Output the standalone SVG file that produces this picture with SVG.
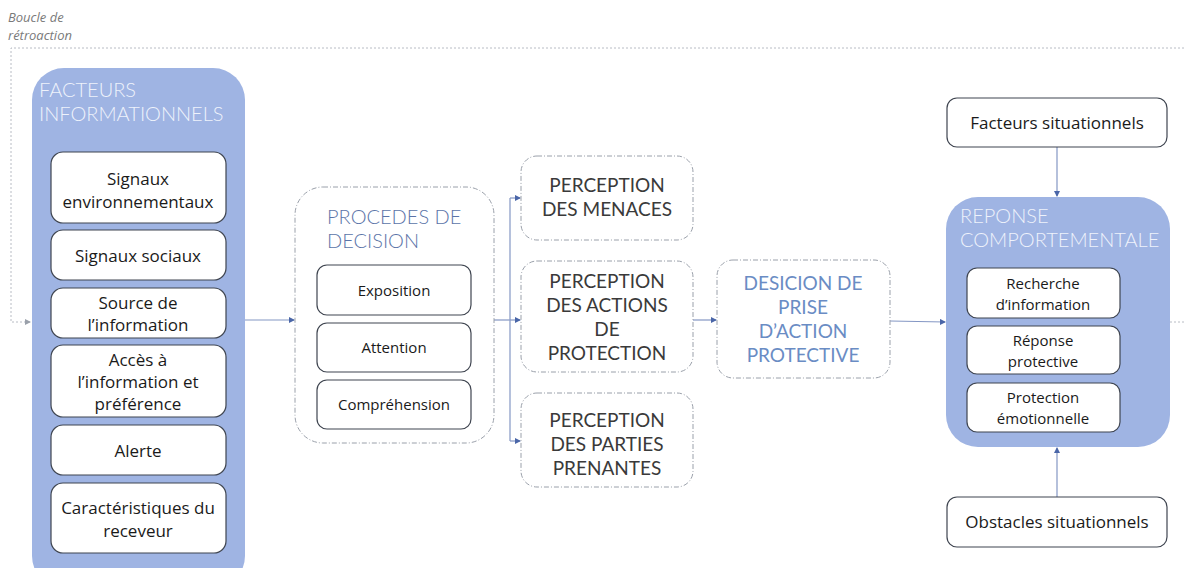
<svg xmlns="http://www.w3.org/2000/svg" width="1184" height="568" viewBox="0 0 1184 568">
<style>
.big{fill:#9fb4e3;stroke:none}
.inner{fill:#ffffff;stroke:#3f4550;stroke-width:1.2}
.dash{fill:#ffffff;stroke:#9aa0aa;stroke-width:1;stroke-dasharray:5 2 1 2}
.t{font-family:"Open Sans","Liberation Sans",sans-serif;font-size:17px;fill:#1a1a1a;text-anchor:middle}
.ts{font-family:"Open Sans","Liberation Sans",sans-serif;font-size:15px;fill:#1a1a1a;text-anchor:middle}
.hw{font-family:"Lato","DejaVu Sans",sans-serif;font-weight:300;font-size:20px;fill:#eef2fb}
.hb{font-family:"Lato","DejaVu Sans",sans-serif;font-weight:300;font-size:20px;fill:#5b74a8}
.hg{font-family:"Lato","DejaVu Sans",sans-serif;font-weight:400;font-size:19px;fill:#3a3a3a;text-anchor:middle}
.hl{font-family:"Lato","DejaVu Sans",sans-serif;font-weight:400;font-size:19px;fill:#6a8cc4;text-anchor:middle}
.note{font-family:"Open Sans","Liberation Sans",sans-serif;font-style:italic;font-size:13px;fill:#7a7a7a}
.c{fill:none;stroke:#8497c4;stroke-width:1.2}
.loop{fill:none;stroke:#b8bcc4;stroke-width:1;stroke-dasharray:2 2}
</style>
<defs>
<marker id="a" markerWidth="6" markerHeight="6" refX="5" refY="3" orient="auto" markerUnits="userSpaceOnUse">
<path d="M0,0 L6,3 L0,6 z" fill="#4a66a8"/>
</marker>
<marker id="ag" markerWidth="6" markerHeight="6" refX="5" refY="3" orient="auto" markerUnits="userSpaceOnUse">
<path d="M0,0 L6,3 L0,6 z" fill="#9aa0aa"/>
</marker>
</defs>
<rect width="1184" height="568" fill="#ffffff"/>

<text class="note" x="8" y="22">Boucle de</text>
<text class="note" x="8" y="40">rétroaction</text>

<g id="connectors">
<polyline class="loop" points="1170,322 1190,322 1190,48 11,48 11,322 30,322" marker-end="url(#ag)"/>
<line class="c" x1="245" y1="320" x2="294" y2="320" marker-end="url(#a)"/>
<polyline class="c" points="494,320 510,320"/>
<line class="c" x1="510" y1="198" x2="510" y2="441"/>
<line class="c" x1="510" y1="198" x2="520" y2="198" marker-end="url(#a)"/>
<line class="c" x1="510" y1="320" x2="520" y2="320" marker-end="url(#a)"/>
<line class="c" x1="510" y1="441" x2="520" y2="441" marker-end="url(#a)"/>
<line class="c" x1="693" y1="320" x2="716" y2="320" marker-end="url(#a)"/>
<line class="c" x1="890" y1="321" x2="945" y2="322" marker-end="url(#a)"/>
<line class="c" x1="1057" y1="147" x2="1057" y2="196" marker-end="url(#a)"/>
<line class="c" x1="1057" y1="497" x2="1057" y2="448" marker-end="url(#a)"/>
</g>

<g id="facteurs-informationnels">
<rect class="big" x="32" y="68" width="213" height="520" rx="32"/>
<text class="hw" x="39" y="97">FACTEURS</text>
<text class="hw" x="39" y="121">INFORMATIONNELS</text>
</g>
<g id="signaux-env">
<rect class="inner" x="51" y="152" width="175" height="71" rx="12"/>
<text class="t" x="138" y="185">Signaux</text>
<text class="t" x="138" y="208">environnementaux</text>
</g>
<g id="signaux-sociaux">
<rect class="inner" x="51" y="230" width="175" height="50" rx="12"/>
<text class="t" x="138" y="262">Signaux sociaux</text>
</g>
<g id="source">
<rect class="inner" x="51" y="288" width="175" height="50" rx="12"/>
<text class="t" x="138" y="309">Source de</text>
<text class="t" x="138" y="331">l’information</text>
</g>
<g id="acces">
<rect class="inner" x="51" y="345" width="175" height="72" rx="12"/>
<text class="t" x="138" y="366">Accès à</text>
<text class="t" x="138" y="388">l’information et</text>
<text class="t" x="138" y="410">préférence</text>
</g>
<g id="alerte">
<rect class="inner" x="51" y="425" width="175" height="50" rx="12"/>
<text class="t" x="138" y="457">Alerte</text>
</g>
<g id="caracteristiques">
<rect class="inner" x="51" y="483" width="175" height="70" rx="12"/>
<text class="t" x="138" y="514">Caractéristiques du</text>
<text class="t" x="138" y="537">receveur</text>
</g>

<g id="procedes">
<rect class="dash" x="295" y="187" width="199" height="256" rx="28"/>
<text class="hb" x="327" y="224">PROCEDES DE</text>
<text class="hb" x="327" y="248">DECISION</text>
</g>
<g id="exposition">
<rect class="inner" x="317" y="265" width="154" height="50" rx="10"/>
<text class="ts" x="394" y="296">Exposition</text>
</g>
<g id="attention">
<rect class="inner" x="317" y="323" width="154" height="49" rx="10"/>
<text class="ts" x="394" y="353">Attention</text>
</g>
<g id="comprehension">
<rect class="inner" x="317" y="380" width="154" height="49" rx="10"/>
<text class="ts" x="394" y="410">Compréhension</text>
</g>

<g id="perception-menaces">
<rect class="dash" x="521" y="156" width="172" height="84" rx="16"/>
<text class="hg" x="607" y="192">PERCEPTION</text>
<text class="hg" x="607" y="216">DES MENACES</text>
</g>
<g id="perception-actions">
<rect class="dash" x="521" y="261" width="172" height="111" rx="16"/>
<text class="hg" x="607" y="288">PERCEPTION</text>
<text class="hg" x="607" y="312">DES ACTIONS</text>
<text class="hg" x="607" y="336">DE</text>
<text class="hg" x="607" y="360">PROTECTION</text>
</g>
<g id="perception-parties">
<rect class="dash" x="521" y="393" width="172" height="94" rx="16"/>
<text class="hg" x="607" y="427">PERCEPTION</text>
<text class="hg" x="607" y="451">DES PARTIES</text>
<text class="hg" x="607" y="475">PRENANTES</text>
</g>

<g id="decision">
<rect class="dash" x="717" y="260" width="173" height="118" rx="16"/>
<text class="hl" x="803" y="290">DESICION DE</text>
<text class="hl" x="803" y="314">PRISE</text>
<text class="hl" x="803" y="338">D’ACTION</text>
<text class="hl" x="803" y="362">PROTECTIVE</text>
</g>

<g id="facteurs-situationnels">
<rect class="inner" x="947" y="98" width="220" height="49" rx="10"/>
<text class="t" x="1057" y="129">Facteurs situationnels</text>
</g>

<g id="reponse">
<rect class="big" x="946" y="197" width="224" height="250" rx="32"/>
<text class="hw" x="960" y="223">REPONSE</text>
<text class="hw" x="960" y="247">COMPORTEMENTALE</text>
</g>
<g id="recherche">
<rect class="inner" x="967" y="268" width="153" height="50" rx="10"/>
<text class="ts" x="1043" y="289">Recherche</text>
<text class="ts" x="1043" y="310">d’information</text>
</g>
<g id="reponse-protective">
<rect class="inner" x="967" y="326" width="153" height="48" rx="10"/>
<text class="ts" x="1043" y="346">Réponse</text>
<text class="ts" x="1043" y="367">protective</text>
</g>
<g id="protection-emo">
<rect class="inner" x="967" y="383" width="153" height="49" rx="10"/>
<text class="ts" x="1043" y="403">Protection</text>
<text class="ts" x="1043" y="424">émotionnelle</text>
</g>

<g id="obstacles">
<rect class="inner" x="947" y="497" width="220" height="50" rx="10"/>
<text class="t" x="1057" y="528">Obstacles situationnels</text>
</g>
</svg>
